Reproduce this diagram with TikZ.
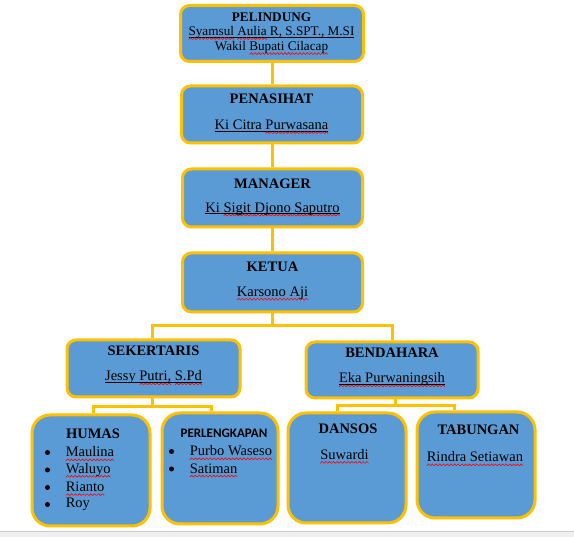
\documentclass[tikz,border=0pt]{standalone}
\usepackage{fontspec}
\setmainfont{Liberation Serif}
\newfontfamily\calibri{Carlito}
\definecolor{boxfill}{HTML}{5B9BD5}
\definecolor{gold}{HTML}{FFC000}
\newsavebox\wavebox
\newcommand\redwave[1]{\leavevmode\setbox0\hbox{#1}\rlap{\smash{\lower3.8pt\hbox to\wd0{\xleaders\copy\wavebox\hfil}}}\box0\relax}
\newcommand\myul[1]{\leavevmode\setbox2\hbox{#1}\rlap{\smash{\color{black}\rule[-2pt]{\wd2}{0.8pt}}}\box2\relax}
\tikzset{
  orgbox/.style={draw=gold, fill=boxfill, line width=3pt, rounded corners=9pt, inner sep=0pt},
  lowbox/.style={orgbox, rounded corners=18pt},
  conn/.style={draw=gold, line width=3pt},
  ttl/.style={font=\fontsize{14.5}{16}\selectfont\bfseries, inner sep=0pt},
  txt/.style={font=\fontsize{14.5}{16}\selectfont, inner sep=0pt},
  ttls/.style={font=\fontsize{13.2}{15}\selectfont\bfseries, inner sep=0pt},
  txts/.style={font=\fontsize{13.2}{15}\selectfont, inner sep=0pt},
  itm/.style={font=\fontsize{14.5}{16}\selectfont, inner sep=0pt, anchor=west},
  bul/.style={circle, fill=black, inner sep=0pt, minimum size=5pt},
}
\begin{document}
\begin{tikzpicture}[x=1pt,y=-1pt]
\pgfinterruptpicture
\global\sbox\wavebox{\begin{pgfpicture}%
\pgfpathrectangle{\pgfpoint{0pt}{0pt}}{\pgfpoint{3.6pt}{1.8pt}}\pgfusepath{use as bounding box}%
\pgfsetlinewidth{0.6pt}\pgfsetcolor{red}\pgfsetroundcap
\pgfpathmoveto{\pgfpoint{0pt}{0pt}}\pgfpathlineto{\pgfpoint{1.8pt}{1.8pt}}\pgfpathlineto{\pgfpoint{3.6pt}{0pt}}\pgfusepath{stroke}%
\end{pgfpicture}}%
\endpgfinterruptpicture
\useasboundingbox (0,0) rectangle (574,537);
\fill[white] (0,0) rectangle (574,537);
\fill[black!6] (0,532) rectangle (574,537);
\draw[black!20, line width=1pt] (0,532) -- (574,532);

% boxes
\node[orgbox, minimum width=183, minimum height=56] (pel) at (272,33.5) {};
\node[orgbox, minimum width=181, minimum height=57] (pen) at (272,114.5) {};
\node[orgbox, minimum width=180, minimum height=58] (man) at (272.5,198) {};
\node[orgbox, minimum width=180, minimum height=59] (ket) at (272.5,282.5) {};
\node[orgbox, minimum width=173, minimum height=57] (sek) at (153.5,368.5) {};
\node[orgbox, minimum width=172, minimum height=56] (ben) at (392,370) {};
\node[lowbox, minimum width=118, minimum height=111] (hum) at (91,470.5) {};
\node[lowbox, minimum width=116, minimum height=111] (per) at (220,468.5) {};
\node[lowbox, minimum width=118, minimum height=110] (dan) at (347,468) {};
\node[lowbox, minimum width=118, minimum height=106] (tab) at (476,465) {};

% connectors
\coordinate (kj) at (272,326);
\coordinate (sj) at (152,407);
\coordinate (bj) at (395,406);
\draw[conn] (pel.south) -- (pen.north);
\draw[conn] (pen.south) -- (pen.south |- man.north);
\draw[conn] (man.south -| kj) -- (kj |- ket.north);
\draw[conn] (ket.south -| kj) -- (kj);
\draw[conn] ([xshift=-1.5pt]sek.north) |- (kj) -| (ben.north);
\draw[conn] ([xshift=-1.5pt]sek.south) -- (sj);
\draw[conn] ([xshift=2pt]hum.north) |- (sj) -| ([xshift=-9pt]per.north);
\draw[conn] ([xshift=3pt]ben.south) -- (bj);
\draw[conn] ([xshift=-10pt]dan.north) |- (bj) -| ([xshift=-22pt]tab.north);

% texts
\node[ttls] (tpel) at (271.5,17) {PELINDUNG};
\node[txts] (npel) at (271.5,32.5) {\myul{\redwave{Syamsul} \redwave{Aulia} R, S.SPT., M.SI}};
\node[txts] (wpel) at (271.5,47.5) {Wakil \redwave{Bupati Cilacap}};

\node[ttl] (tpen) at (271.5,99) {PENASIHAT};
\node[txt] (npen) at (271.5,125) {\myul{Ki Citra \redwave{Purwasana}}};

\node[ttl] (tman) at (272.5,184) {MANAGER};
\node[txt] (nman) at (272.5,209) {\myul{Ki \redwave{Sigit Djono Saputro}}};

\node[ttl] (tket) at (272.5,267) {KETUA};
\node[txt] (nket) at (272.5,293) {\redwave{Karsono Aji}};

\node[ttl] (tsek) at (153.5,351) {SEKERTARIS};
\node[txt] (nsek) at (153.5,377.5) {\myul{Jessy \redwave{Putri,} \redwave{S.Pd}}};

\node[ttl] (tben) at (392,353) {BENDAHARA};
\node[txt] (nben) at (392,379.5) {\myul{\redwave{Eka Purwaningsih}}};

\node[ttl] (thum) at (93,433.5) {HUMAS};
\node[bul] (hb1) at (47.5,452.5) {};
\node[itm] (hi1) at (65.5,452) {\redwave{Maulina}};
\node[bul] (hb2) at (47.5,470) {};
\node[itm] (hi2) at (65.5,470) {\redwave{Waluyo}};
\node[bul] (hb3) at (47.5,487.5) {};
\node[itm] (hi3) at (65.5,487) {\redwave{Rianto}};
\node[bul] (hb4) at (47.5,504.5) {};
\node[itm] (hi4) at (65.5,504) {Roy};

\node[font=\calibri\fontsize{13}{15}\selectfont\bfseries, inner sep=0pt] (tper) at (224,433) {PERLENGKAPAN};
\node[bul] (pb1) at (171.5,451.5) {};
\node[itm] (pi1) at (189.5,451) {\redwave{Purbo Waseso}};
\node[bul] (pb2) at (171.5,469) {};
\node[itm] (pi2) at (189.5,468.5) {\redwave{Satiman}};

\node[ttl] (tdan) at (348,428.5) {DANSOS};
\node[itm] (ndan) at (320,454.5) {\redwave{Suwardi}};

\node[ttl] (ttab) at (478.5,430) {TABUNGAN};
\node[itm] (ntab) at (426.5,457) {\redwave{Rindra Setiawan}};
\end{tikzpicture}
\end{document}
